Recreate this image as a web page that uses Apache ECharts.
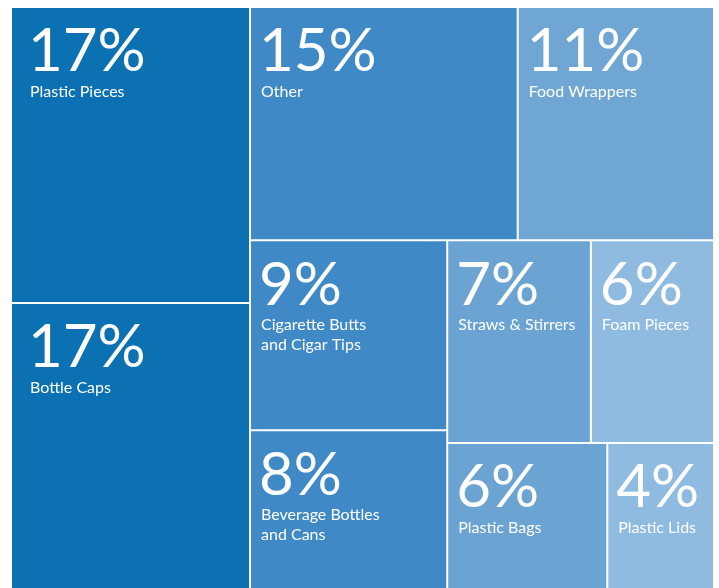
<!DOCTYPE html>
<html>
<head>
<meta charset="utf-8">
<script src="https://cdn.jsdelivr.net/npm/echarts@6/dist/echarts.min.js"></script>
<style>
html,body{margin:0;padding:0;background:#fff;}
#c{width:719px;height:588px;}
</style>
</head>
<body>
<div id="c"></div>
<script>
const names = ['Plastic Pieces','Bottle Caps','Other','Food Wrappers','Cigarette Butts\nand Cigar Tips','Beverage Bottles\nand Cans','Straws & Stirrers','Foam Pieces','Plastic Bags','Plastic Lids'];
const values = [17,17,15,11,9,8,7,6,6,4];
const colors = ['#0b71b3','#0b71b3','#3f8ac6','#6fa6d3','#3f8ac6','#3f8ac6','#6ba3d2','#8fbbe0','#6ba3d2','#8fbbe0'];

function leaf(i){
  const item = {name:names[i], value:values[i], itemStyle:{color:colors[i]}};
  if (i < 2) item.label = {padding:[14,0,0,16]};
  return item;
}
function group(idx){
  const ch = idx.map(leaf);
  return {name:'', value:ch.reduce((s,c)=>s+c.value,0), children:ch};
}
function groupOf(children){
  return {name:'', value:children.reduce((s,c)=>s+c.value,0), children:children};
}
const data = [
  group([0,1]),
  groupOf([
    group([2,3]),
    groupOf([
      group([4,5]),
      group([6,7,8,9])
    ])
  ])
];

const chart = echarts.init(document.getElementById('c'));
chart.setOption({
  animation:false,
  series:[{
    type:'treemap',
    left:12, top:8, right:6, bottom:-10,
    sort:false,
    squareRatio:1,
    roam:false,
    nodeClick:false,
    breadcrumb:{show:false},
    visibleMin:0,
    itemStyle:{borderWidth:0, gapWidth:2, borderColor:'#fff'},
    upperLabel:{show:false},
    label:{
      show:true,
      position:'insideTopLeft',
      padding:[14,0,0,8],
      overflow:'none',
      formatter:function(p){
        return '{p|' + p.value + '%}\n{n|' + p.name.split('\n').join('}\n{n|') + '}';
      },
      rich:{
        p:{fontFamily:'Lato', fontSize:60, lineHeight:60, color:'#fff'},
        n:{fontFamily:'Lato', fontSize:16, lineHeight:20, color:'#fff', padding:[0,0,0,2]}
      }
    },
    data:data
  }]
});
</script>
</body>
</html>
